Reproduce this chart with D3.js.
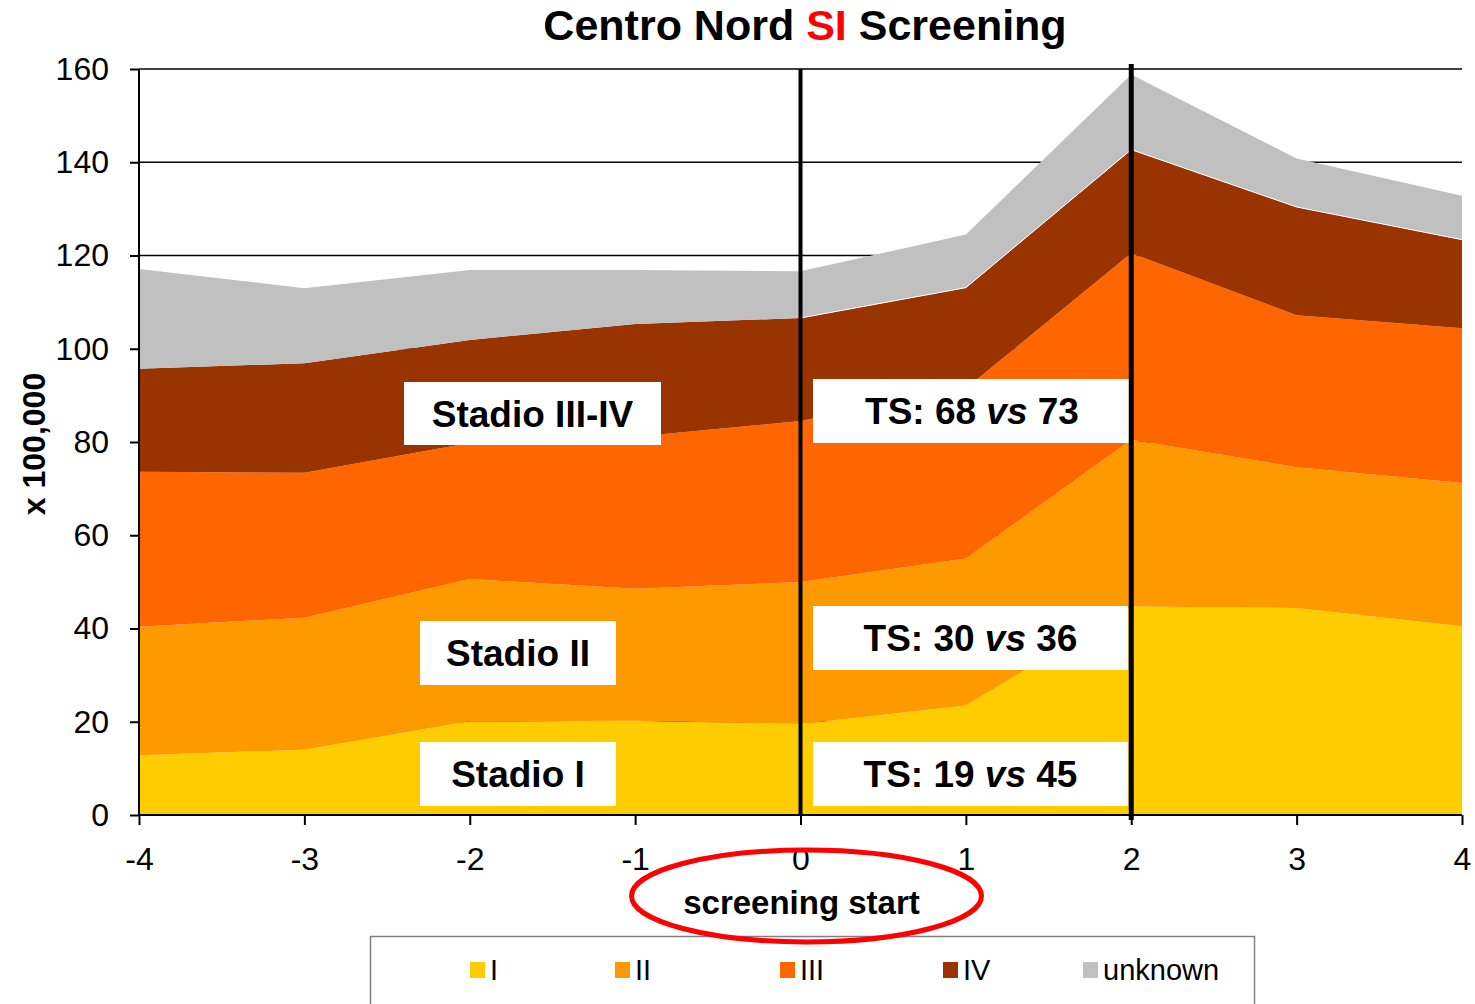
<!DOCTYPE html>
<html>
<head>
<meta charset="utf-8">
<script src="https://cdn.jsdelivr.net/npm/d3@7"></script>
<style>
  body { margin: 0; background: #fff; }
  svg { display: block; font-family: "Liberation Sans", Arial, sans-serif; }
</style>
</head>
<body>
<svg width="1475" height="1004"></svg>
<script>
// years relative to screening start
const years = [-4, -3, -2, -1, 0, 1, 2, 3, 4];
const stageKeys = ["I", "II", "III", "IV", "unknown"];
const stageI = [12.8, 14.0, 20.1, 20.2, 19.5, 23.5, 44.7, 44.4, 40.5];
const stageII = [27.6, 28.3, 30.5, 28.3, 30.5, 31.5, 35.8, 30.2, 30.7];
const stageIII = [33.2, 31.1, 29.2, 32.6, 34.5, 36.5, 40.0, 32.6, 33.2];
const stageIV = [22.1, 23.5, 22.1, 24.2, 22.1, 21.6, 22.2, 23.2, 19.0];
const stageUnknown = [21.4, 16.1, 15.0, 11.6, 10.0, 11.4, 16.1, 10.4, 9.4];
const yTicks = [0, 20, 40, 60, 80, 100, 120, 140, 160];
const markerYears = [0, 2];

const colors = {
  I: "#FFCC00",
  II: "#FF9900",
  III: "#FF6600",
  IV: "#993300",
  unknown: "#C0C0C0"
};

const svg = d3.select("svg");
const width = +svg.attr("width");
const height = +svg.attr("height");
const margin = { top: 69, right: 13, bottom: 189, left: 139 };
const innerWidth = width - margin.left - margin.right;
const innerHeight = height - margin.top - margin.bottom;

const rows = years.map((yr, i) => ({
  year: yr,
  I: stageI[i],
  II: stageII[i],
  III: stageIII[i],
  IV: stageIV[i],
  unknown: stageUnknown[i]
}));

const x = d3.scaleLinear().domain([-4, 4]).range([0, innerWidth]);
const y = d3.scaleLinear().domain([0, 160]).range([innerHeight, 0]);

const g = svg.append("g").attr("transform", `translate(${margin.left},${margin.top})`);

// gridlines behind the areas
g.selectAll(".grid")
  .data(yTicks.filter((t) => t > 0))
  .enter().append("line")
  .attr("class", "grid")
  .attr("x1", 0)
  .attr("x2", innerWidth)
  .attr("y1", (d) => y(d))
  .attr("y2", (d) => y(d))
  .attr("stroke", "#000")
  .attr("stroke-width", 1.5);

const series = d3.stack().keys(stageKeys)(rows);
const area = d3.area()
  .x((d) => x(d.data.year))
  .y0((d) => y(d[0]))
  .y1((d) => y(d[1]));

g.selectAll(".layer")
  .data(series)
  .enter().append("path")
  .attr("class", "layer")
  .attr("fill", (d) => colors[d.key])
  .attr("d", area);

// thin light edge on top of stage IV on the right half
const ivTop = series[3].filter((d) => d.data.year >= 0);
g.append("path")
  .attr("fill", "none")
  .attr("stroke", "#fff")
  .attr("stroke-width", 1)
  .attr("d", d3.line().x((d) => x(d.data.year)).y((d) => y(d[1]))(ivTop));

// axes
const yAxis = d3.axisLeft(y).tickValues(yTicks).tickSize(9).tickPadding(21);
const yG = g.append("g").call(yAxis);
yG.select(".domain").attr("stroke", "#000").attr("stroke-width", 2).attr("d", `M0,0V${innerHeight}`);
yG.selectAll(".tick line").attr("stroke", "#000").attr("stroke-width", 2);
yG.selectAll(".tick text").attr("font-size", 32).attr("fill", "#000").attr("font-family", "Liberation Sans, Arial, sans-serif");

const xAxis = d3.axisBottom(x).tickValues(years).tickSize(10).tickPadding(22)
  .tickFormat((d) => String(d));
const xG = g.append("g").attr("transform", `translate(0,${innerHeight})`).call(xAxis);
xG.select(".domain").attr("stroke", "#000").attr("stroke-width", 2).attr("d", `M0,0H${innerWidth}`);
xG.selectAll(".tick line").attr("stroke", "#000").attr("stroke-width", 2);
xG.selectAll(".tick text").attr("font-size", 32).attr("fill", "#000").attr("font-family", "Liberation Sans, Arial, sans-serif");

// annotation boxes (plot coords)
const boxes = [
  { x: 265, y: 313, w: 257, h: 63, text: ["Stadio III-IV"] },
  { x: 281, y: 552, w: 196, h: 64, text: ["Stadio II"] },
  { x: 281, y: 673, w: 196, h: 64, text: ["Stadio I"] },
  { x: 674, y: 310, w: 318, h: 64, text: ["TS: 68 ", "vs", " 73"] },
  { x: 674, y: 537, w: 315, h: 64, text: ["TS: 30 ", "vs", " 36"] },
  { x: 674, y: 673, w: 315, h: 64, text: ["TS: 19 ", "vs", " 45"] }
];

const boxG = g.selectAll(".box").data(boxes).enter().append("g").attr("class", "box");
boxG.append("rect")
  .attr("x", (d) => d.x)
  .attr("y", (d) => d.y)
  .attr("width", (d) => d.w)
  .attr("height", (d) => d.h)
  .attr("fill", "#fff");
const boxText = boxG.append("text")
  .attr("x", (d) => d.x + d.w / 2)
  .attr("y", (d) => d.y + d.h / 2 + 13)
  .attr("text-anchor", "middle")
  .attr("font-size", 37)
  .attr("font-weight", "bold")
  .attr("fill", "#000");
boxText.each(function (d) {
  const t = d3.select(this);
  d.text.forEach((part, i) => {
    t.append("tspan")
      .attr("font-style", i === 1 ? "italic" : "normal")
      .text(part);
  });
});

// vertical marker lines
g.selectAll(".marker")
  .data(markerYears)
  .enter().append("line")
  .attr("class", "marker")
  .attr("x1", (d) => x(d))
  .attr("x2", (d) => x(d))
  .attr("y1", (d) => d === 0 ? 0 : -5)
  .attr("y2", (d) => d === 0 ? innerHeight : innerHeight + 5)
  .attr("stroke", "#000")
  .attr("stroke-width", (d) => d === 0 ? 4 : 5);

// y axis title
svg.append("text")
  .attr("transform", "translate(45,444) rotate(-90)")
  .attr("text-anchor", "middle")
  .attr("font-size", 32)
  .attr("font-weight", "bold")
  .text("x 100,000");

// title
const title = svg.append("text")
  .attr("x", 805)
  .attr("y", 40)
  .attr("text-anchor", "middle")
  .attr("font-size", 43)
  .attr("font-weight", "bold");
title.append("tspan").text("Centro Nord ");
title.append("tspan").attr("fill", "#FF0000").text("SI");
title.append("tspan").text(" Screening");

// legend
svg.append("rect")
  .attr("x", 370.5)
  .attr("y", 936.5)
  .attr("width", 884)
  .attr("height", 80)
  .attr("fill", "#fff")
  .attr("stroke", "#808080")
  .attr("stroke-width", 1.5);
const legendX = [470, 615, 780, 943, 1083];
const legend = svg.selectAll(".legend")
  .data(stageKeys)
  .enter().append("g")
  .attr("class", "legend")
  .attr("transform", (d, i) => `translate(${legendX[i]},962)`);
legend.append("rect")
  .attr("width", 15)
  .attr("height", 16)
  .attr("fill", (d) => colors[d]);
legend.append("text")
  .attr("x", 20)
  .attr("y", 18)
  .attr("font-size", 29)
  .text((d) => d);

// x axis note with red ellipse, drawn over the legend frame
svg.append("text")
  .attr("x", margin.left + x(0) + 1)
  .attr("y", 914)
  .attr("text-anchor", "middle")
  .attr("font-size", 33)
  .attr("font-weight", "bold")
  .text("screening start");
svg.append("ellipse")
  .attr("cx", margin.left + x(0) + 6)
  .attr("cy", 896)
  .attr("rx", 175)
  .attr("ry", 46)
  .attr("fill", "none")
  .attr("stroke", "#FF0000")
  .attr("stroke-width", 5);
</script>
</body>
</html>
